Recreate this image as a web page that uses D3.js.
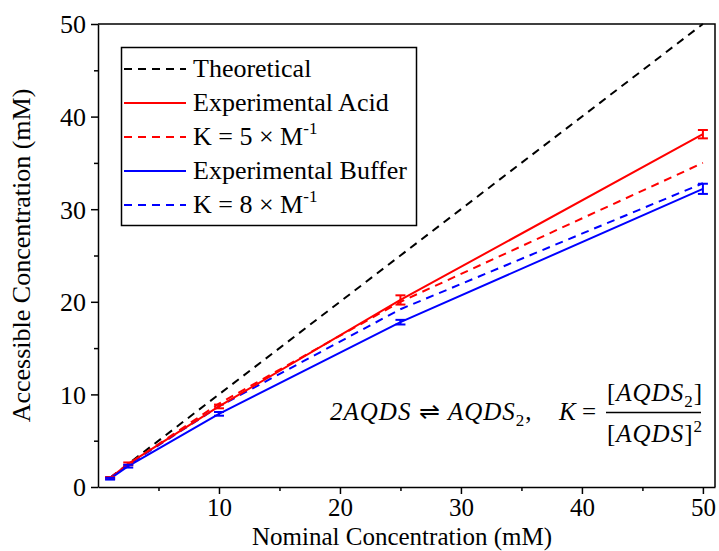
<!DOCTYPE html>
<html lang="en">
<head>
  <meta charset="UTF-8">
  <title>Accessible vs Nominal Concentration</title>
  <script src="https://d3js.org/d3.v7.min.js"></script>
  <style>
    * { margin: 0; padding: 0; box-sizing: border-box; }
    body { background: #fff; }
    svg text { font-family: "Times New Roman", "Liberation Serif", serif; fill: #000; }
  </style>
</head>
<body>
  <div id="chart"></div>
  <script>
    // data
    const nominal = [1, 2.5, 10, 25, 50];
    const theoretical = [1, 2.5, 10, 25, 50];
    const acid = [0.98, 2.5, 8.7, 20.2, 38.1];
    const acidErr = [0.1, 0.15, 0.2, 0.5, 0.45];
    const buffer = [0.9, 2.25, 7.9, 17.8, 32.2];
    const bufferErr = [0.1, 0.15, 0.2, 0.25, 0.55];
    const modelK5 = [0.99, 2.45, 9.0, 20.0, 35.0];
    const modelK8 = [0.98, 2.4, 8.7, 19.2, 32.8];
    const xTicks = [10, 20, 30, 40, 50];
    const yTicks = [0, 10, 20, 30, 40, 50];
    const legendLabels = ["Theoretical", "Experimental Acid", "K = 5 × M", "Experimental Buffer", "K = 8 × M"];

    const W = 719, H = 551;
    const plot = {left: 98, right: 715, top: 24, bottom: 487};
    const FONT = "'Times New Roman', 'Liberation Serif', serif";

    const svg = d3.select("#chart").append("svg")
                  .attr("width", W)
                  .attr("height", H)
                  .attr("font-family", FONT);

    const x = d3.scaleLinear().domain([0, 51]).range([plot.left, plot.right]);
    const y = d3.scaleLinear().domain([0, 50]).range([plot.bottom, plot.top]);

    const line = d3.line()
                   .x((d, i) => x(nominal[i]))
                   .y(d => y(d));

    const series = [
      {vals: theoretical, color: "#000", dash: "8,6"},
      {vals: acid, color: "#ff0000", dash: null, err: acidErr},
      {vals: modelK5, color: "#ff0000", dash: "8,6"},
      {vals: buffer, color: "#0000ff", dash: null, err: bufferErr},
      {vals: modelK8, color: "#0000ff", dash: "8,6"}
    ];

    // lines, dashed models first
    [0, 2, 4, 1, 3].forEach(k => {
      const s = series[k];
      svg.append("path")
         .datum(s.vals)
         .attr("d", line)
         .attr("fill", "none")
         .attr("stroke", s.color)
         .attr("stroke-width", 2)
         .attr("stroke-dasharray", s.dash);
    });

    // error bars
    series.filter(s => s.err).forEach(s => {
      const g = svg.append("g").attr("stroke", s.color).attr("stroke-width", 2);
      s.vals.forEach((v, i) => {
        const cx = x(nominal[i]);
        const y1 = y(v - s.err[i]), y2 = y(v + s.err[i]);
        g.append("line").attr("x1", cx).attr("x2", cx).attr("y1", y1).attr("y2", y2);
        g.append("line").attr("x1", cx - 5).attr("x2", cx + 5).attr("y1", y1).attr("y2", y1);
        g.append("line").attr("x1", cx - 5).attr("x2", cx + 5).attr("y1", y2).attr("y2", y2);
      });
    });

    // axes
    const xAxis = svg.append("g")
       .attr("transform", `translate(0,${plot.bottom})`)
       .call(d3.axisBottom(x).tickValues(xTicks).tickSize(7).tickSizeOuter(0).tickPadding(4));
    const xMinor = svg.append("g")
       .attr("transform", `translate(0,${plot.bottom})`)
       .call(d3.axisBottom(x).tickValues(d3.range(5, 50, 10)).tickSize(4).tickFormat(""));
    const yAxis = svg.append("g")
       .attr("transform", `translate(${plot.left},0)`)
       .call(d3.axisLeft(y).tickValues(yTicks).tickSize(7).tickSizeOuter(0).tickPadding(5));
    const yMinor = svg.append("g")
       .attr("transform", `translate(${plot.left},0)`)
       .call(d3.axisLeft(y).tickValues(d3.range(5, 50, 10)).tickSize(4).tickFormat(""));

    [xAxis, xMinor, yAxis, yMinor].forEach(a => {
      a.attr("font-family", FONT).attr("font-size", 26);
      a.selectAll("path, line").attr("stroke", "#000").attr("stroke-width", 1.5);
    });
    xMinor.select(".domain").remove();
    yMinor.select(".domain").remove();
    xAxis.attr("font-size", 25);
    xAxis.selectAll("text").attr("dy", "0.72em");
    yAxis.selectAll("text").attr("dy", "0.34em");

    // frame top + right
    svg.append("path")
       .attr("d", `M${plot.left},${plot.top}H${plot.right}V${plot.bottom}`)
       .attr("fill", "none")
       .attr("stroke", "#000")
       .attr("stroke-width", 1.5);

    // axis titles
    svg.append("text")
       .attr("x", 402)
       .attr("y", 545)
       .attr("text-anchor", "middle")
       .attr("font-size", 25)
       .text("Nominal Concentration (mM)");

    svg.append("text")
       .attr("transform", `translate(30,${(plot.top + plot.bottom) / 2}) rotate(-90)`)
       .attr("text-anchor", "middle")
       .attr("font-size", 26)
       .text("Accessible Concentration (mM)");

    // legend
    const legend = svg.append("g");
    legend.append("rect")
          .attr("x", 121.5).attr("y", 47.5)
          .attr("width", 295).attr("height", 178)
          .attr("fill", "#fff")
          .attr("stroke", "#000")
          .attr("stroke-width", 1.5);

    legendLabels.forEach((lab, i) => {
      const s = series[i];
      const ly = 69 + i * 34;
      legend.append("line")
            .attr("x1", 124).attr("x2", 186)
            .attr("y1", ly).attr("y2", ly)
            .attr("stroke", s.color)
            .attr("stroke-width", 2)
            .attr("stroke-dasharray", s.dash);
      const t = legend.append("text")
            .attr("x", 193)
            .attr("y", ly + 8)
            .attr("font-size", 26)
            .text(lab);
      if (lab.endsWith("M")) {
        t.append("tspan").attr("dy", -11).attr("font-size", 17).text("-1");
      }
    });

    // equation annotation
    const eq = svg.append("g").attr("font-style", "italic").attr("font-size", 25);
    const e1 = eq.append("text").attr("x", 330).attr("y", 420).attr("letter-spacing", 1);
    e1.append("tspan").text("2AQDS");
    e1.append("tspan").attr("font-style", "normal").text(" ⇌ ");
    e1.append("tspan").text("AQDS");
    e1.append("tspan").attr("dy", 6).attr("font-size", 17).attr("font-style", "normal").text("2");
    e1.append("tspan").attr("dy", -6).attr("font-style", "normal").text(",");

    const kt = eq.append("text").attr("x", 559).attr("y", 420);
    kt.append("tspan").text("K");
    kt.append("tspan").attr("font-style", "normal").text(" =");

    const num = eq.append("text").attr("x", 655).attr("y", 401).attr("text-anchor", "middle").attr("letter-spacing", 1);
    num.append("tspan").attr("font-style", "normal").text("[");
    num.append("tspan").text("AQDS");
    num.append("tspan").attr("dy", 6).attr("font-size", 17).attr("font-style", "normal").text("2");
    num.append("tspan").attr("dy", -6).attr("font-style", "normal").text("]");

    eq.append("line")
      .attr("x1", 606).attr("x2", 701)
      .attr("y1", 412.5).attr("y2", 412.5)
      .attr("stroke", "#000")
      .attr("stroke-width", 1.3);

    const den = eq.append("text").attr("x", 655).attr("y", 442).attr("text-anchor", "middle").attr("letter-spacing", 1);
    den.append("tspan").attr("font-style", "normal").text("[");
    den.append("tspan").text("AQDS");
    den.append("tspan").attr("font-style", "normal").text("]");
    den.append("tspan").attr("dy", -10).attr("font-size", 17).attr("font-style", "normal").text("2");
  </script>
</body>
</html>
